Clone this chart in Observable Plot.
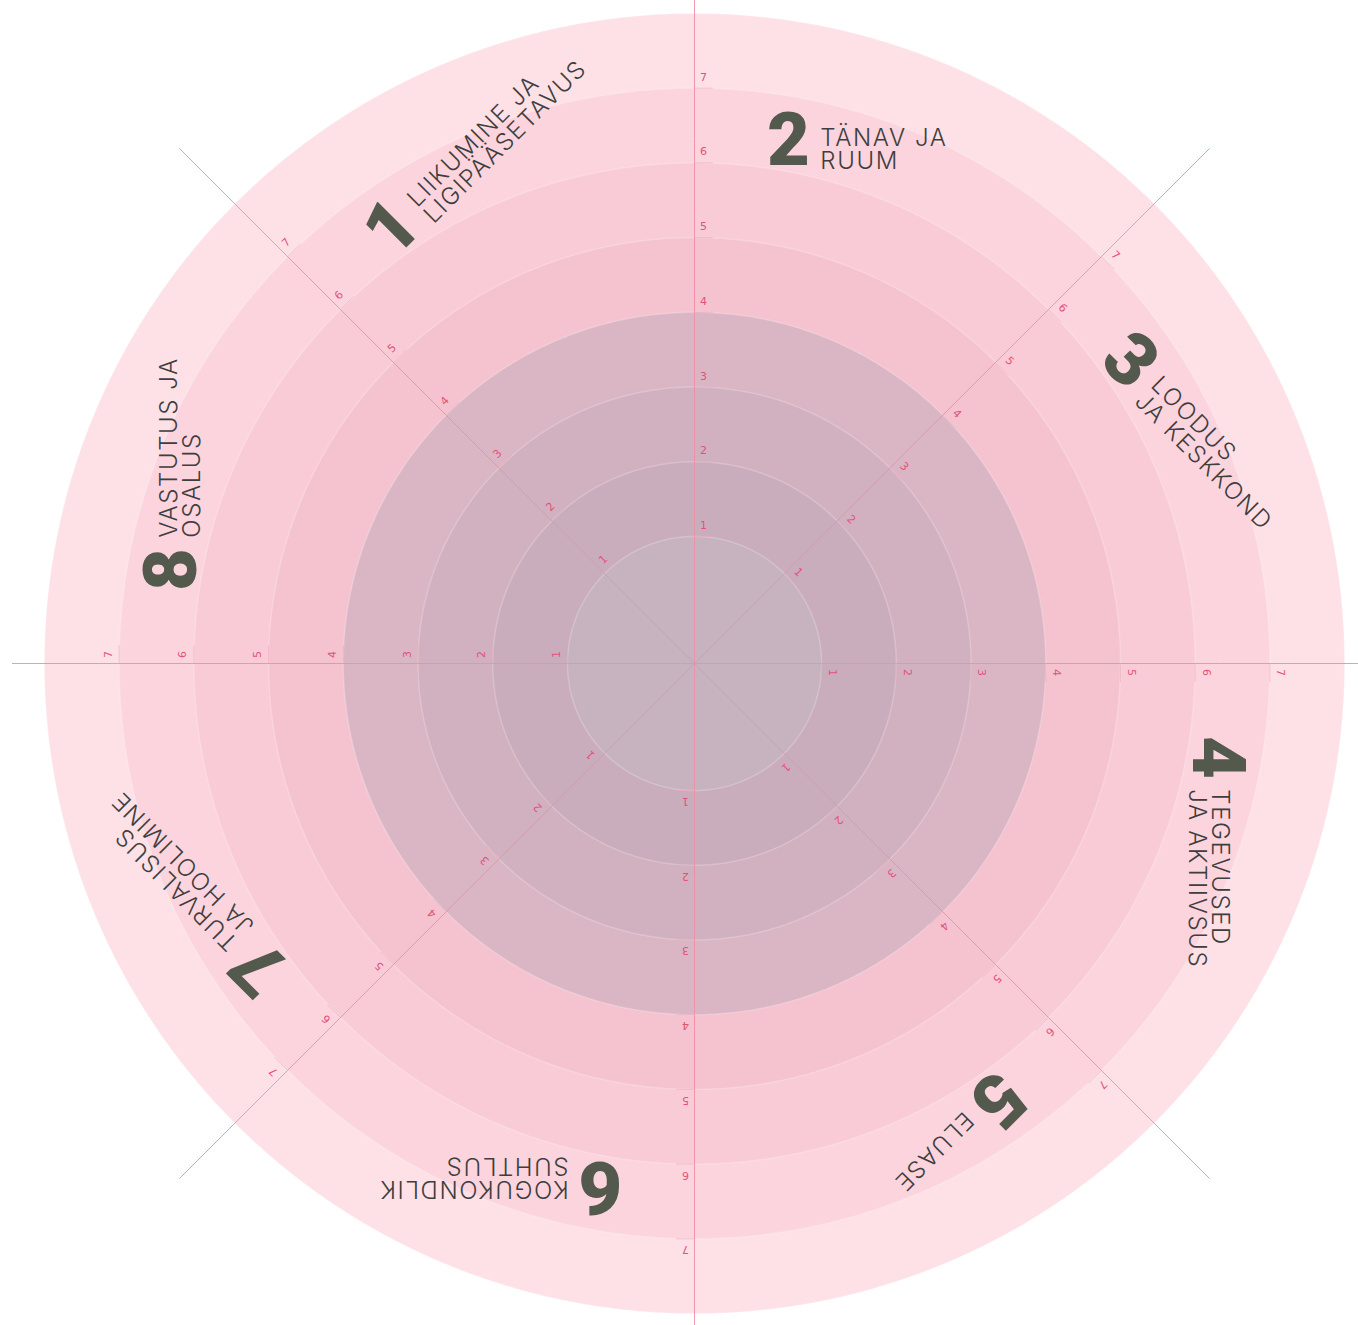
<!DOCTYPE html>
<html>
<head>
<meta charset="utf-8">
<script src="https://cdn.jsdelivr.net/npm/d3@7"></script>
<script src="https://cdn.jsdelivr.net/npm/@observablehq/plot@0.6"></script>
<style>
  body { margin: 0; background: #fff; }
  #chart svg { display: block; overflow: hidden; }
</style>
</head>
<body>
<div id="chart"></div>
<script>
// ---------- data ----------
const categoryNumbers = ["1", "2", "3", "4", "5", "6", "7", "8"];
const categoryNames = [
  "LIIKUMINE JA\nLIGIPÄÄSETAVUS",
  "TÄNAV JA\nRUUM",
  "LOODUS\nJA KESKKOND",
  "TEGEVUSED\nJA AKTIIVSUS",
  "ELUASE",
  "KOGUKONDLIK\nSUHTLUS",
  "TURVALISUS\nJA HOOLIMINE",
  "VASTUTUS JA\nOSALUS"
];
const levels = [8, 7, 6, 5, 4, 3, 2, 1];          // concentric rings (drawn outer first)
const tickValues = [1, 2, 3, 4, 5, 6, 7];          // tick labels along each axis
const levelColors = ["#fde1e7", "#fcd4dd", "#f9cbd6", "#f4c3cf", "#dab5c4", "#d1b0bf", "#c9adbd", "#c7b2bf"];

// ---------- geometry helpers (layout) ----------
const W = 1358, H = 1325;
const R_OUT = 650;
const OFFSET = 0.7;
const DEG_PER_UNIT = 10;
const maxDeg = (d3.max(levels) + OFFSET) * DEG_PER_UNIT;
const pxPerDeg = R_OUT / maxDeg;
const nAxes = categoryNames.length;
const axisBearings = d3.range(nAxes).map(i => i * 360 / nAxes);
const radiusPx = v => (v + OFFSET) * DEG_PER_UNIT * pxPerDeg;
const rad = b => b * Math.PI / 180;

function toGeo([X, Y]) {
  const b = Math.atan2(X, -Y) * 180 / Math.PI;
  const d = Math.hypot(X, Y);
  return [180 - b, 90 - d / pxPerDeg];
}
function polarPx(b, dist, perp = 0) {
  const a = rad(b);
  return [dist * Math.sin(a) + perp * Math.cos(a), -dist * Math.cos(a) + perp * Math.sin(a)];
}

const rings = levels.map(v => ({
  v,
  geom: d3.geoCircle().center([0, 90]).radius((v + OFFSET) * DEG_PER_UNIT).precision(0.5)()
}));

const axisLines = axisBearings.map(b => {
  const lon = 180 - b;
  const len = b === 270 ? 682 : (b % 90 === 0 ? 700 : 728);
  return {type: "LineString", coordinates: [[lon, 90], toGeo(polarPx(b, len))]};
});

const tickRows = axisBearings.flatMap(b => tickValues.map(v => {
  const r = radiusPx(v);
  const [lx, ly] = toGeo(polarPx(b, r + 11, 9));
  return {
    b, v, lx, ly,
    geom: {type: "LineString", coordinates: [toGeo(polarPx(b, r, 0.5)), toGeo(polarPx(b, r, 18))]}
  };
}));

const LABEL_DIST = 530, LABEL_ANGLE = 10.2;
const catRows = categoryNames.map((name, i) => {
  const rho = (i - 1) * 360 / nAxes;
  const [X, Y] = polarPx(rho + LABEL_ANGLE, LABEL_DIST);
  const [ox, oy] = [32, 8];
  const a = rad(rho);
  const T = [X + ox * Math.cos(a) - oy * Math.sin(a), Y + ox * Math.sin(a) + oy * Math.cos(a)];
  const [nx, ny] = toGeo([X, Y]);
  const [tx, ty] = toGeo(T);
  return {num: categoryNumbers[i], name, rho, nx, ny, tx, ty};
});

const chart = Plot.plot({
  width: W,
  height: H,
  marginLeft: 44,
  marginRight: 14,
  marginTop: 13,
  marginBottom: 12,
  style: {background: "#fff", fontFamily: "DejaVu Sans, sans-serif"},
  projection: {
    type: "azimuthal-equidistant",
    rotate: [0, -90],
    domain: d3.geoCircle().center([0, 90]).radius(maxDeg)(),
    clip: false
  },
  color: {type: "ordinal", domain: levels, range: levelColors},
  marks: [
    Plot.geo(rings, {geometry: d => d.geom, fill: d => d.v, stroke: "#ffffff", strokeOpacity: 0.22, strokeWidth: 1.5}),
    Plot.geo(axisLines, {stroke: "#ef8ea5", strokeWidth: 1, strokeOpacity: 0.9, fill: "none"}),
    Plot.geo(tickRows, {geometry: d => d.geom, stroke: "#eaa6b7", strokeWidth: 1, strokeOpacity: 0.55, fill: "none"}),
    Plot.text(tickRows, {x: "lx", y: "ly", text: d => String(d.v), rotate: "b", fill: "#e2527a", fontSize: 11, textAnchor: "middle", lineAnchor: "middle", fontFamily: "DejaVu Sans"}),
    Plot.text(catRows, {x: "nx", y: "ny", text: "num", rotate: "rho", fill: "#535a4d", fontSize: 74, fontWeight: 900, fontFamily: "Roboto", textAnchor: "middle", lineAnchor: "middle"}),
    Plot.text(catRows, {x: "tx", y: "ty", text: "name", rotate: "rho", fill: "#3e3e3e", fontSize: 24, fontWeight: 300, fontFamily: "Inter", textAnchor: "start", lineAnchor: "middle", lineHeight: 0.96})
  ]
});
// widen the category names' tracking (the reference uses a wide geometric face)
chart.querySelectorAll('g[font-family="Inter"]').forEach(g => {
  g.setAttribute("letter-spacing", "1.6");
  g.style.letterSpacing = "1.6px";
});
document.getElementById("chart").append(chart);
</script>
</body>
</html>
